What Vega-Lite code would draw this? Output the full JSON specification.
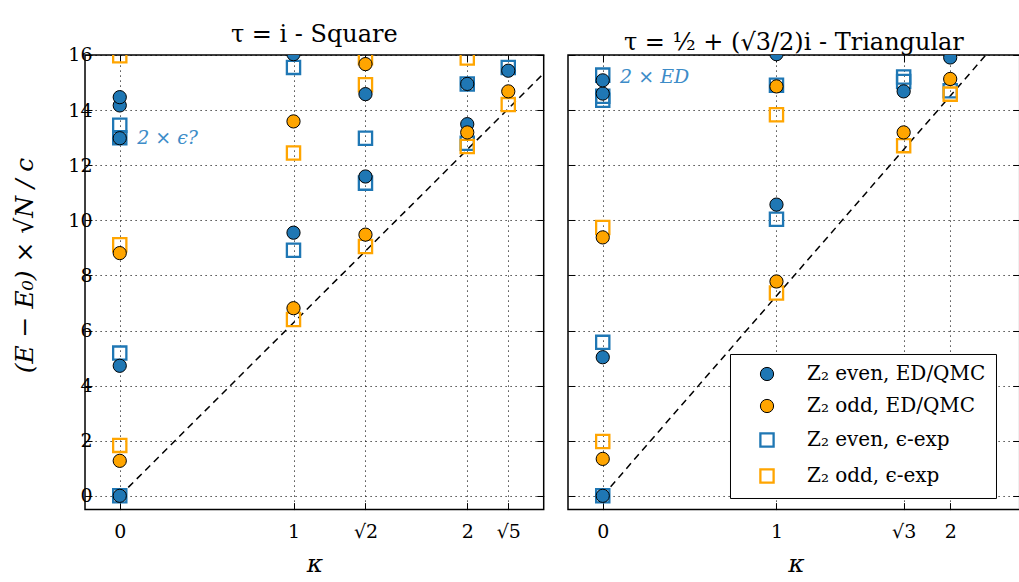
{
  "$schema": "https://vega.github.io/schema/vega-lite/v6.json",
  "padding": {"left": 12, "top": 22, "right": 0, "bottom": 0},
  "spacing": 21,
  "resolve": {
    "scale": {"shape": "independent", "fill": "independent", "stroke": "independent", "strokeWidth": "independent"},
    "legend": {"shape": "independent", "fill": "independent", "stroke": "independent", "strokeWidth": "independent"}
  },
  "config": {
    "font": "DejaVu Serif",
    "view": {"stroke": "black", "strokeWidth": 1.5},
    "axis": {
      "domain": false,
      "tickColor": "black",
      "tickWidth": 1,
      "tickSize": -7,
      "labelFlush": false,
      "labelColor": "black",
      "labelFontSize": 19,
      "labelFont": "DejaVu Serif",
      "gridColor": "black",
      "gridDash": [1.2, 3.8],
      "gridWidth": 1,
      "gridOpacity": 0.9,
      "titleColor": "black",
      "titleFont": "DejaVu Serif",
      "titleFontWeight": "normal"
    },
    "title": {"font": "DejaVu Serif", "fontSize": 24, "fontWeight": "normal", "color": "black", "offset": -1}
  },
  "datasets": {
    "sqLine": [{"k": 0, "e": 0}, {"k": 2.6, "e": 16.336}],
    "triLine": [{"k": 0, "e": 0}, {"k": 2.3, "e": 16.687}],
    "sqNote": [{"k": 0.1, "e": 12.98, "note": "2 × ϵ?"}],
    "triNote": [{"k": 0.1, "e": 15.2, "note": "2 × ED"}],
    "sqPts": [
      {"k": 0, "e": 0, "s": "Z₂ even, ϵ-exp"},
      {"k": 0, "e": 5.18, "s": "Z₂ even, ϵ-exp"},
      {"k": 0, "e": 13.0, "s": "Z₂ even, ϵ-exp"},
      {"k": 0, "e": 13.45, "s": "Z₂ even, ϵ-exp"},
      {"k": 0, "e": 1.83, "s": "Z₂ odd, ϵ-exp"},
      {"k": 0, "e": 9.11, "s": "Z₂ odd, ϵ-exp"},
      {"k": 0, "e": 15.97, "s": "Z₂ odd, ϵ-exp"},
      {"k": 1, "e": 8.91, "s": "Z₂ even, ϵ-exp"},
      {"k": 1, "e": 15.55, "s": "Z₂ even, ϵ-exp"},
      {"k": 1, "e": 6.4, "s": "Z₂ odd, ϵ-exp"},
      {"k": 1, "e": 12.44, "s": "Z₂ odd, ϵ-exp"},
      {"k": 1.41421, "e": 11.35, "s": "Z₂ even, ϵ-exp"},
      {"k": 1.41421, "e": 12.98, "s": "Z₂ even, ϵ-exp"},
      {"k": 1.41421, "e": 9.05, "s": "Z₂ odd, ϵ-exp"},
      {"k": 1.41421, "e": 14.92, "s": "Z₂ odd, ϵ-exp"},
      {"k": 1.41421, "e": 15.9, "s": "Z₂ odd, ϵ-exp"},
      {"k": 2, "e": 12.8, "s": "Z₂ even, ϵ-exp"},
      {"k": 2, "e": 14.95, "s": "Z₂ even, ϵ-exp"},
      {"k": 2, "e": 12.68, "s": "Z₂ odd, ϵ-exp"},
      {"k": 2, "e": 15.89, "s": "Z₂ odd, ϵ-exp"},
      {"k": 2.23607, "e": 15.55, "s": "Z₂ even, ϵ-exp"},
      {"k": 2.23607, "e": 14.2, "s": "Z₂ odd, ϵ-exp"},
      {"k": 0, "e": 0, "s": "Z₂ even, ED/QMC"},
      {"k": 0, "e": 4.72, "s": "Z₂ even, ED/QMC"},
      {"k": 0, "e": 12.98, "s": "Z₂ even, ED/QMC"},
      {"k": 0, "e": 14.17, "s": "Z₂ even, ED/QMC"},
      {"k": 0, "e": 14.47, "s": "Z₂ even, ED/QMC"},
      {"k": 0, "e": 1.27, "s": "Z₂ odd, ED/QMC"},
      {"k": 0, "e": 8.81, "s": "Z₂ odd, ED/QMC"},
      {"k": 1, "e": 9.55, "s": "Z₂ even, ED/QMC"},
      {"k": 1, "e": 16.03, "s": "Z₂ even, ED/QMC"},
      {"k": 1, "e": 6.81, "s": "Z₂ odd, ED/QMC"},
      {"k": 1, "e": 13.59, "s": "Z₂ odd, ED/QMC"},
      {"k": 1.41421, "e": 11.59, "s": "Z₂ even, ED/QMC"},
      {"k": 1.41421, "e": 14.58, "s": "Z₂ even, ED/QMC"},
      {"k": 1.41421, "e": 9.48, "s": "Z₂ odd, ED/QMC"},
      {"k": 1.41421, "e": 15.67, "s": "Z₂ odd, ED/QMC"},
      {"k": 2, "e": 13.49, "s": "Z₂ even, ED/QMC"},
      {"k": 2, "e": 14.95, "s": "Z₂ even, ED/QMC"},
      {"k": 2, "e": 13.19, "s": "Z₂ odd, ED/QMC"},
      {"k": 2.23607, "e": 15.43, "s": "Z₂ even, ED/QMC"},
      {"k": 2.23607, "e": 14.68, "s": "Z₂ odd, ED/QMC"}
    ],
    "triPts": [
      {"k": 0, "e": 0, "s": "Z₂ even, ϵ-exp"},
      {"k": 0, "e": 5.57, "s": "Z₂ even, ϵ-exp"},
      {"k": 0, "e": 14.36, "s": "Z₂ even, ϵ-exp"},
      {"k": 0, "e": 14.5, "s": "Z₂ even, ϵ-exp"},
      {"k": 0, "e": 15.27, "s": "Z₂ even, ϵ-exp"},
      {"k": 0, "e": 1.97, "s": "Z₂ odd, ϵ-exp"},
      {"k": 0, "e": 9.74, "s": "Z₂ odd, ϵ-exp"},
      {"k": 1, "e": 10.04, "s": "Z₂ even, ϵ-exp"},
      {"k": 1, "e": 14.9, "s": "Z₂ even, ϵ-exp"},
      {"k": 1, "e": 7.36, "s": "Z₂ odd, ϵ-exp"},
      {"k": 1, "e": 13.83, "s": "Z₂ odd, ϵ-exp"},
      {"k": 1.73205, "e": 15.04, "s": "Z₂ even, ϵ-exp"},
      {"k": 1.73205, "e": 15.2, "s": "Z₂ even, ϵ-exp"},
      {"k": 1.73205, "e": 12.71, "s": "Z₂ odd, ϵ-exp"},
      {"k": 2, "e": 14.7, "s": "Z₂ even, ϵ-exp"},
      {"k": 2, "e": 14.58, "s": "Z₂ odd, ϵ-exp"},
      {"k": 0, "e": 0, "s": "Z₂ even, ED/QMC"},
      {"k": 0, "e": 5.03, "s": "Z₂ even, ED/QMC"},
      {"k": 0, "e": 14.6, "s": "Z₂ even, ED/QMC"},
      {"k": 0, "e": 15.08, "s": "Z₂ even, ED/QMC"},
      {"k": 0, "e": 1.34, "s": "Z₂ odd, ED/QMC"},
      {"k": 0, "e": 9.38, "s": "Z₂ odd, ED/QMC"},
      {"k": 1, "e": 10.57, "s": "Z₂ even, ED/QMC"},
      {"k": 1, "e": 16.03, "s": "Z₂ even, ED/QMC"},
      {"k": 1, "e": 7.78, "s": "Z₂ odd, ED/QMC"},
      {"k": 1, "e": 14.86, "s": "Z₂ odd, ED/QMC"},
      {"k": 1.73205, "e": 14.68, "s": "Z₂ even, ED/QMC"},
      {"k": 1.73205, "e": 13.19, "s": "Z₂ odd, ED/QMC"},
      {"k": 2, "e": 15.91, "s": "Z₂ even, ED/QMC"},
      {"k": 2, "e": 15.13, "s": "Z₂ odd, ED/QMC"}
    ]
  },
  "hconcat": [
    {
      "width": 458.7,
      "height": 454.6,
      "title": {"text": "τ = i - Square"},
      "layer": [
        {
          "data": {"name": "sqLine"},
          "mark": {"type": "line", "color": "black", "strokeWidth": 1.5, "strokeDash": [7, 5], "clip": true},
          "encoding": {
            "x": {"field": "k", "type": "quantitative",
              "scale": {"domain": [-0.2, 2.44], "nice": false, "zero": false},
              "axis": {"orient": "bottom", "values": [0, 1, 1.41421, 2, 2.23607], "grid": true,
                "labelExpr": "datum.value < 0.5 ? '0' : datum.value < 1.2 ? '1' : datum.value < 1.7 ? '√2' : datum.value < 2.1 ? '2' : '√5'",
                "labelPadding": 20, "title": "κ", "titleFontSize": 25, "titleFontStyle": "italic", "titlePadding": 10}},
            "y": {"field": "e", "type": "quantitative",
              "scale": {"domain": [-0.5, 16], "nice": false, "zero": false},
              "axis": {"orient": "left", "values": [0, 2, 4, 6, 8, 10, 12, 14, 16], "grid": true,
                "labelPadding": 0, "title": "(E − E₀) × √N / c", "titleFontSize": 25, "titleFontStyle": "italic", "titlePadding": 30, "titleY": 210}}
          }
        },
        {
          "data": {"name": "sqPts"},
          "mark": {"type": "point", "filled": true, "opacity": 1, "size": 175, "clip": true},
          "encoding": {
            "x": {"field": "k", "type": "quantitative", "scale": {"domain": [-0.2, 2.44], "nice": false, "zero": false},
              "axis": {"orient": "top", "values": [0, 1, 1.41421, 2, 2.23607], "labels": false, "grid": false, "title": null}},
            "y": {"field": "e", "type": "quantitative", "scale": {"domain": [-0.5, 16], "nice": false, "zero": false},
              "axis": {"orient": "right", "values": [0, 2, 4, 6, 8, 10, 12, 14, 16], "labels": false, "grid": false, "title": null}},
            "shape": {"field": "s", "type": "nominal", "legend": null,
              "scale": {"domain": ["Z₂ even, ED/QMC", "Z₂ odd, ED/QMC", "Z₂ even, ϵ-exp", "Z₂ odd, ϵ-exp"], "range": ["circle", "circle", "square", "square"]}},
            "fill": {"field": "s", "type": "nominal", "legend": null,
              "scale": {"domain": ["Z₂ even, ED/QMC", "Z₂ odd, ED/QMC", "Z₂ even, ϵ-exp", "Z₂ odd, ϵ-exp"], "range": ["#1f77b4", "#ffa500", "transparent", "transparent"]}},
            "stroke": {"field": "s", "type": "nominal", "legend": null,
              "scale": {"domain": ["Z₂ even, ED/QMC", "Z₂ odd, ED/QMC", "Z₂ even, ϵ-exp", "Z₂ odd, ϵ-exp"], "range": ["black", "black", "#1f77b4", "#ffa500"]}},
            "strokeWidth": {"field": "s", "type": "ordinal", "legend": null,
              "scale": {"type": "ordinal", "domain": ["Z₂ even, ED/QMC", "Z₂ odd, ED/QMC", "Z₂ even, ϵ-exp", "Z₂ odd, ϵ-exp"], "range": [1, 1, 2.3, 2.3]}}
          }
        },
        {
          "data": {"name": "sqNote"},
          "mark": {"type": "text", "align": "left", "baseline": "middle", "fontSize": 19, "fontStyle": "italic", "color": "#3d8cc8"},
          "encoding": {
            "x": {"field": "k", "type": "quantitative", "scale": {"domain": [-0.2, 2.44], "nice": false, "zero": false}, "axis": null},
            "y": {"field": "e", "type": "quantitative", "scale": {"domain": [-0.5, 16], "nice": false, "zero": false}, "axis": null},
            "text": {"field": "note"}
          }
        }
      ],
      "resolve": {"axis": {"x": "independent", "y": "independent"}}
    },
    {
      "width": 451.7,
      "height": 454.6,
      "title": {"text": "τ = ½ + (√3/2)i - Triangular"},
      "layer": [
        {
          "data": {"name": "triLine"},
          "mark": {"type": "line", "color": "black", "strokeWidth": 1.5, "strokeDash": [7, 5], "clip": true},
          "encoding": {
            "x": {"field": "k", "type": "quantitative",
              "scale": {"domain": [-0.2, 2.4], "nice": false, "zero": false},
              "axis": {"orient": "bottom", "values": [0, 1, 1.73205, 2], "grid": true,
                "labelExpr": "datum.value < 0.5 ? '0' : datum.value < 1.2 ? '1' : datum.value < 1.9 ? '√3' : '2'",
                "labelPadding": 20, "title": "κ", "titleFontSize": 25, "titleFontStyle": "italic", "titlePadding": 10, "titleX": 228}},
            "y": {"field": "e", "type": "quantitative",
              "scale": {"domain": [-0.5, 16], "nice": false, "zero": false},
              "axis": {"orient": "left", "values": [0, 2, 4, 6, 8, 10, 12, 14, 16], "grid": true, "labels": false, "title": null}}
          }
        },
        {
          "data": {"name": "triPts"},
          "mark": {"type": "point", "filled": true, "opacity": 1, "size": 175, "clip": true},
          "encoding": {
            "x": {"field": "k", "type": "quantitative", "scale": {"domain": [-0.2, 2.4], "nice": false, "zero": false},
              "axis": {"orient": "top", "values": [0, 1, 1.73205, 2], "labels": false, "grid": false, "title": null}},
            "y": {"field": "e", "type": "quantitative", "scale": {"domain": [-0.5, 16], "nice": false, "zero": false},
              "axis": {"orient": "right", "values": [0, 2, 4, 6, 8, 10, 12, 14, 16], "labels": false, "grid": false, "title": null}},
            "shape": {"field": "s", "type": "nominal",
              "scale": {"domain": ["Z₂ even, ED/QMC", "Z₂ odd, ED/QMC", "Z₂ even, ϵ-exp", "Z₂ odd, ϵ-exp"], "range": ["circle", "circle", "square", "square"]},
              "legend": {"orient": "none", "legendX": 162, "legendY": 299, "title": null, "strokeColor": "black", "fillColor": "white",
                "padding": 10, "symbolSize": 175, "symbolOffset": 17, "labelOffset": 30, "rowPadding": 12,
                "labelFontSize": 20, "labelFont": "DejaVu Serif", "labelColor": "black", "labelLimit": 400, "cornerRadius": 0}},
            "fill": {"field": "s", "type": "nominal",
              "scale": {"domain": ["Z₂ even, ED/QMC", "Z₂ odd, ED/QMC", "Z₂ even, ϵ-exp", "Z₂ odd, ϵ-exp"], "range": ["#1f77b4", "#ffa500", "transparent", "transparent"]}},
            "stroke": {"field": "s", "type": "nominal",
              "scale": {"domain": ["Z₂ even, ED/QMC", "Z₂ odd, ED/QMC", "Z₂ even, ϵ-exp", "Z₂ odd, ϵ-exp"], "range": ["black", "black", "#1f77b4", "#ffa500"]}},
            "strokeWidth": {"field": "s", "type": "ordinal",
              "scale": {"type": "ordinal", "domain": ["Z₂ even, ED/QMC", "Z₂ odd, ED/QMC", "Z₂ even, ϵ-exp", "Z₂ odd, ϵ-exp"], "range": [1, 1, 2.3, 2.3]}}
          }
        },
        {
          "data": {"name": "triNote"},
          "mark": {"type": "text", "align": "left", "baseline": "middle", "fontSize": 19, "fontStyle": "italic", "color": "#3d8cc8"},
          "encoding": {
            "x": {"field": "k", "type": "quantitative", "scale": {"domain": [-0.2, 2.4], "nice": false, "zero": false}, "axis": null},
            "y": {"field": "e", "type": "quantitative", "scale": {"domain": [-0.5, 16], "nice": false, "zero": false}, "axis": null},
            "text": {"field": "note"}
          }
        }
      ],
      "resolve": {"axis": {"x": "independent", "y": "independent"}}
    }
  ]
}
